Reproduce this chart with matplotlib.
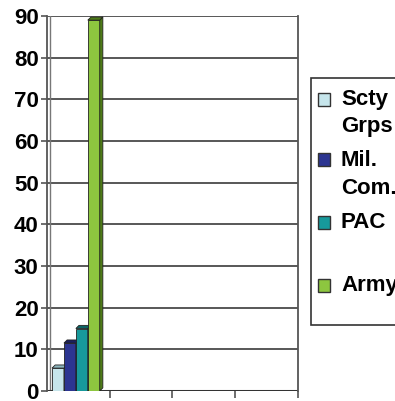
import matplotlib.pyplot as plt
from matplotlib.patches import Polygon, Rectangle

plt.rcParams['font.family'] = ['Liberation Sans', 'DejaVu Sans']

series = ["Scty\nGrps", "Mil.\nCom.", "PAC", "Army"]
values = [5.5, 11.5, 15, 89]
face_colors = ["#c6e5eb", "#2c3591", "#17999b", "#8dc63f"]
side_colors = ["#8db5bd", "#1a1f5e", "#0c6465", "#4d7a18"]
n_slots = 4
yticks = list(range(0, 100, 10))

W, H = 395, 401
fig = plt.figure(figsize=(W / 100, H / 100), dpi=100)
ax = fig.add_axes([47 / W, 1 - 391 / H, (298 - 47) / W, (391 - 16) / H])
ax.set_xlim(-0.5, n_slots - 0.5)
ax.set_ylim(0, 90)

# back wall gridlines
for y in yticks[1:]:
    ax.axhline(y, color="#4a4a4a", lw=1.3, zorder=1)

# 3d bars in the first slot
bw = 0.19
x0 = -0.42
dx, dy = 0.05, 0.75
for i, (v, fc, sc) in enumerate(zip(values, face_colors, side_colors)):
    left = x0 + i * bw
    z = 3 + i
    ax.add_patch(Rectangle((left, 0), bw, v, facecolor=fc, edgecolor="#222222",
                           lw=0.6, zorder=z))
    ax.add_patch(Polygon([(left + bw, 0), (left + bw + dx, dy), (left + bw + dx, v + dy),
                          (left + bw, v)], closed=True, facecolor=sc,
                         edgecolor="#222222", lw=0.6, zorder=z))
    ax.add_patch(Polygon([(left, v), (left + dx, v + dy), (left + bw + dx, v + dy),
                          (left + bw, v)], closed=True, facecolor=sc,
                         edgecolor="#222222", lw=0.6, zorder=z))

# floor and walls
ax.axhline(0, color="#333333", lw=2.2, zorder=2)
for s in ["top", "bottom"]:
    ax.spines[s].set_visible(False)
ax.spines["left"].set_color("#555555")
ax.spines["left"].set_linewidth(1.3)
ax.spines["right"].set_color("#555555")
ax.spines["right"].set_linewidth(1.3)
ax.axvline(-0.45, color="#777777", lw=1.0, zorder=1)

ax.set_yticks(yticks)
ax.set_yticklabels([str(t) for t in yticks], fontsize=16, fontweight="bold")
ax.tick_params(axis="y", length=4, width=1.2, color="#555555", pad=2)
ax.set_xticks([k + 0.5 for k in range(n_slots)])
ax.set_xticklabels([])
ax.tick_params(axis="x", length=5, width=1.2, color="#555555")

# legend box, running off the right edge
fig.add_artist(Rectangle((311 / W, 1 - 325 / H), 100 / W, (325 - 78) / H,
                         transform=fig.transFigure, facecolor="white",
                         edgecolor="#333333", lw=1.2))
rows = [99, 160, 222, 285]
for label, fc, yc in zip(series, face_colors, rows):
    fig.add_artist(Rectangle((318 / W, 1 - (yc + 6.5) / H), 12 / W, 13 / H,
                             transform=fig.transFigure, facecolor=fc,
                             edgecolor="#333333", lw=1.0))
    for j, line in enumerate(label.split("\n")):
        fig.text(341 / W, 1 - (yc + j * 28) / H, line, fontsize=16,
                 fontweight="bold", va="center", ha="left")

fig.savefig("out.png", dpi=100)
